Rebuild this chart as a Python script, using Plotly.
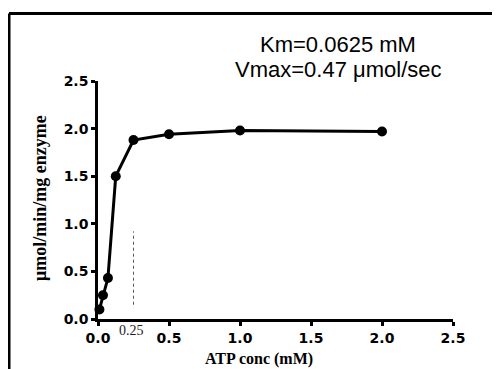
import plotly.graph_objects as go

# Data
atp_conc = [0.01, 0.035, 0.07, 0.125, 0.25, 0.5, 1.0, 2.0]
activity = [0.10, 0.25, 0.43, 1.50, 1.88, 1.94, 1.98, 1.97]
x_ticks = [0.0, 0.5, 1.0, 1.5, 2.0, 2.5]
y_ticks = [0.0, 0.5, 1.0, 1.5, 2.0, 2.5]
x_tick_labels = ["0.0", "0.5", "1.0", "1.5", "2.0", "2.5"]
y_tick_labels = ["0.0", "0.5", "1.0", "1.5", "2.0", "2.5"]
km_text = "Km=0.0625 mM"
vmax_text = "Vmax=0.47 \u03bcmol/sec"
x_title = "ATP conc (mM)"
y_title = "\u03bcmol/min/mg enzyme"
km_marker_x = [0.25, 0.25]
km_marker_y = [0.15, 0.92]

# page body has an 8px default margin; work in figure pixels
OFF = 8
W, H = 492, 361
L, R, T, B = 90, 47, 73, 50
PW, PH = W - L - R, H - T - B

def px(x_ref):
    return (x_ref - OFF - L) / PW

def py(y_ref):
    return (H - B - (y_ref - OFF)) / PH

fig = go.Figure()

# faint dotted marker line at x=0.25
fig.add_trace(go.Scatter(
    x=km_marker_x, y=km_marker_y, mode="lines",
    line=dict(color="#555555", width=1, dash="dot"),
    hoverinfo="skip", showlegend=False, cliponaxis=False))

fig.add_trace(go.Scatter(
    x=atp_conc, y=activity, mode="lines+markers",
    line=dict(color="black", width=3),
    marker=dict(color="black", size=10, symbol="circle"),
    showlegend=False, cliponaxis=False))

axis_common = dict(
    showline=True, linecolor="black", linewidth=2.5,
    ticks="outside", ticklen=4, tickwidth=2.5, tickcolor="black",
    showgrid=False, zeroline=False,
    tickfont=dict(family="DejaVu Sans, sans-serif", size=14,
                  color="black", weight=700),
)

fig.update_layout(
    width=W, height=H,
    margin=dict(l=L, r=R, t=T, b=B),
    paper_bgcolor="white", plot_bgcolor="white",
    xaxis=dict(range=[0, 2.5], tickvals=x_ticks,
               ticktext=["<b>%s</b>" % t for t in x_tick_labels], **axis_common),
    yaxis=dict(range=[0, 2.5], tickvals=y_ticks,
               ticktext=["<b>%s</b>" % t for t in y_tick_labels], **axis_common),
    shapes=[
        # scanned frame: top and left border
        dict(type="line", xref="paper", yref="paper",
             x0=px(9), x1=px(500), y0=py(13.5), y1=py(13.5),
             line=dict(color="black", width=3)),
        dict(type="line", xref="paper", yref="paper",
             x0=px(9), x1=px(9), y0=py(13.5), y1=py(369),
             line=dict(color="black", width=3)),
    ],
    annotations=[
        dict(text=km_text, xref="paper", yref="paper",
             x=px(337.5), y=py(44), xanchor="center", yanchor="middle",
             showarrow=False,
             font=dict(family="Liberation Sans, Arial, sans-serif", size=22, color="black")),
        dict(text=vmax_text, xref="paper", yref="paper",
             x=px(338.5), y=py(70), xanchor="center", yanchor="middle",
             showarrow=False,
             font=dict(family="Liberation Sans, Arial, sans-serif", size=22, color="black")),
        dict(text="<b>%s</b>" % x_title, xref="paper", yref="paper",
             x=px(259), y=py(359), xanchor="center", yanchor="middle",
             showarrow=False,
             font=dict(family="Liberation Serif, Times New Roman, serif", size=16,
                       color="black")),
        dict(text="<b>%s</b>" % y_title, xref="paper", yref="paper",
             x=px(40), y=py(198), xanchor="center", yanchor="middle",
             textangle=-90, showarrow=False,
             font=dict(family="Liberation Serif, Times New Roman, serif", size=18,
                       color="black")),
        dict(text="0.25", xref="paper", yref="paper",
             x=px(131), y=py(330), xanchor="center", yanchor="middle",
             showarrow=False,
             font=dict(family="Liberation Serif, serif", size=14, color="#222222")),
    ],
)

fig.write_html("out.html")
